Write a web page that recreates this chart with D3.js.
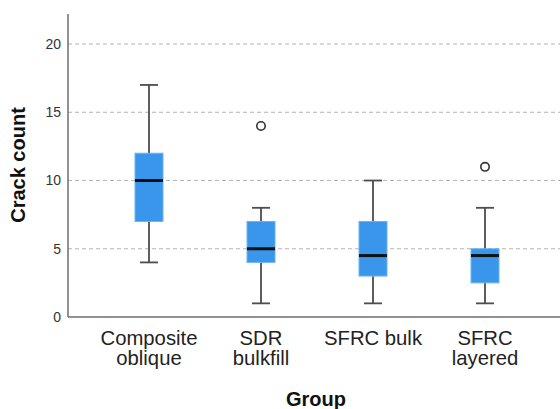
<!DOCTYPE html>
<html>
<head>
<meta charset="UTF-8">
<title>Crack count by group</title>
<script src="https://cdn.jsdelivr.net/npm/d3@7"></script>
<style>
  body { margin: 0; background: #fff; }
  text { font-family: "Liberation Sans", Arial, sans-serif; }
</style>
</head>
<body>
<script>
// box plot summaries per group
var groups   = [["Composite", "oblique"], ["SDR", "bulkfill"], ["SFRC bulk"], ["SFRC", "layered"]];
var mins     = [4, 1, 1, 1];
var q1s      = [7, 4, 3, 2.5];
var medians  = [10, 5, 4.5, 4.5];
var q3s      = [12, 7, 7, 5];
var maxs     = [17, 8, 10, 8];
var outliers = [[], [14], [], [11]];
var yTicks   = [0, 5, 10, 15, 20];

var width = 560, height = 409;
var plotLeft = 68, plotTop = 14, plotBottom = 317;

var svg = d3.select("body").append("svg")
    .attr("width", width)
    .attr("height", height);

var keys = groups.map(function(g) { return g.join(" "); });

var x = d3.scalePoint()
    .domain(keys)
    .range([149, 485]);

var y = d3.scaleLinear()
    .domain([0, 22.2])
    .range([plotBottom, plotTop]);

// dashed gridlines
svg.append("g").selectAll("line")
    .data(yTicks.filter(function(d) { return d > 0; }))
    .enter().append("line")
    .attr("x1", plotLeft)
    .attr("x2", width)
    .attr("y1", function(d) { return y(d); })
    .attr("y2", function(d) { return y(d); })
    .attr("stroke", "#b4b4b4")
    .attr("stroke-width", 1)
    .attr("stroke-dasharray", "4,3");

// y axis, ticks only as labels
var yAxis = svg.append("g")
    .attr("transform", "translate(" + plotLeft + ",0)")
    .call(d3.axisLeft(y).tickValues(yTicks).tickSize(0).tickPadding(7));
yAxis.select(".domain").remove();
yAxis.selectAll("text")
    .attr("font-size", 14)
    .attr("fill", "#333");

// axis lines
svg.append("line")
    .attr("x1", plotLeft).attr("x2", plotLeft)
    .attr("y1", plotTop).attr("y2", plotBottom)
    .attr("stroke", "#6e6e6e").attr("stroke-width", 1.5);
svg.append("line")
    .attr("x1", plotLeft).attr("x2", width)
    .attr("y1", plotBottom).attr("y2", plotBottom)
    .attr("stroke", "#6e6e6e").attr("stroke-width", 1.5);

var boxW = 28, capW = 18;
var data = keys.map(function(k, i) {
    return { key: k, min: mins[i], q1: q1s[i], med: medians[i], q3: q3s[i], max: maxs[i], out: outliers[i] };
});

var g = svg.append("g").selectAll("g")
    .data(data)
    .enter().append("g")
    .attr("transform", function(d) { return "translate(" + x(d.key) + ",0)"; });

// whiskers
g.append("line")
    .attr("x1", 0).attr("x2", 0)
    .attr("y1", function(d) { return y(d.max); })
    .attr("y2", function(d) { return y(d.min); })
    .attr("stroke", "#4d4d4d").attr("stroke-width", 1.8);
g.append("line")
    .attr("x1", -capW / 2).attr("x2", capW / 2)
    .attr("y1", function(d) { return y(d.max); })
    .attr("y2", function(d) { return y(d.max); })
    .attr("stroke", "#4d4d4d").attr("stroke-width", 1.8);
g.append("line")
    .attr("x1", -capW / 2).attr("x2", capW / 2)
    .attr("y1", function(d) { return y(d.min); })
    .attr("y2", function(d) { return y(d.min); })
    .attr("stroke", "#4d4d4d").attr("stroke-width", 1.8);

// boxes
g.append("rect")
    .attr("x", -boxW / 2)
    .attr("width", boxW)
    .attr("y", function(d) { return y(d.q3); })
    .attr("height", function(d) { return y(d.q1) - y(d.q3); })
    .attr("fill", "#3a96ea")
    .attr("stroke", "#6db3f2")
    .attr("stroke-width", 1);

// medians
g.append("line")
    .attr("x1", -boxW / 2).attr("x2", boxW / 2)
    .attr("y1", function(d) { return y(d.med); })
    .attr("y2", function(d) { return y(d.med); })
    .attr("stroke", "#111").attr("stroke-width", 3);

// outliers
g.selectAll("circle")
    .data(function(d) { return d.out; })
    .enter().append("circle")
    .attr("cx", 0)
    .attr("cy", function(d) { return y(d); })
    .attr("r", 4.2)
    .attr("fill", "#fff")
    .attr("stroke", "#333")
    .attr("stroke-width", 1.6);

// category labels
svg.append("g").selectAll("text")
    .data(groups)
    .enter().append("text")
    .attr("x", function(d, i) { return x(keys[i]); })
    .attr("y", 345)
    .attr("text-anchor", "middle")
    .attr("font-size", 20.3)
    .attr("fill", "#222")
    .each(function(d) {
        var t = d3.select(this);
        d.forEach(function(line, j) {
            t.append("tspan")
                .attr("x", t.attr("x"))
                .attr("dy", j === 0 ? 0 : 20)
                .text(line);
        });
    });

// axis titles
svg.append("text")
    .attr("x", 316)
    .attr("y", 406)
    .attr("text-anchor", "middle")
    .attr("font-size", 20)
    .attr("font-weight", "bold")
    .attr("fill", "#111")
    .text("Group");

svg.append("text")
    .attr("transform", "translate(25,165) rotate(-90)")
    .attr("text-anchor", "middle")
    .attr("font-size", 20)
    .attr("font-weight", "bold")
    .attr("fill", "#111")
    .text("Crack count");
</script>
</body>
</html>
